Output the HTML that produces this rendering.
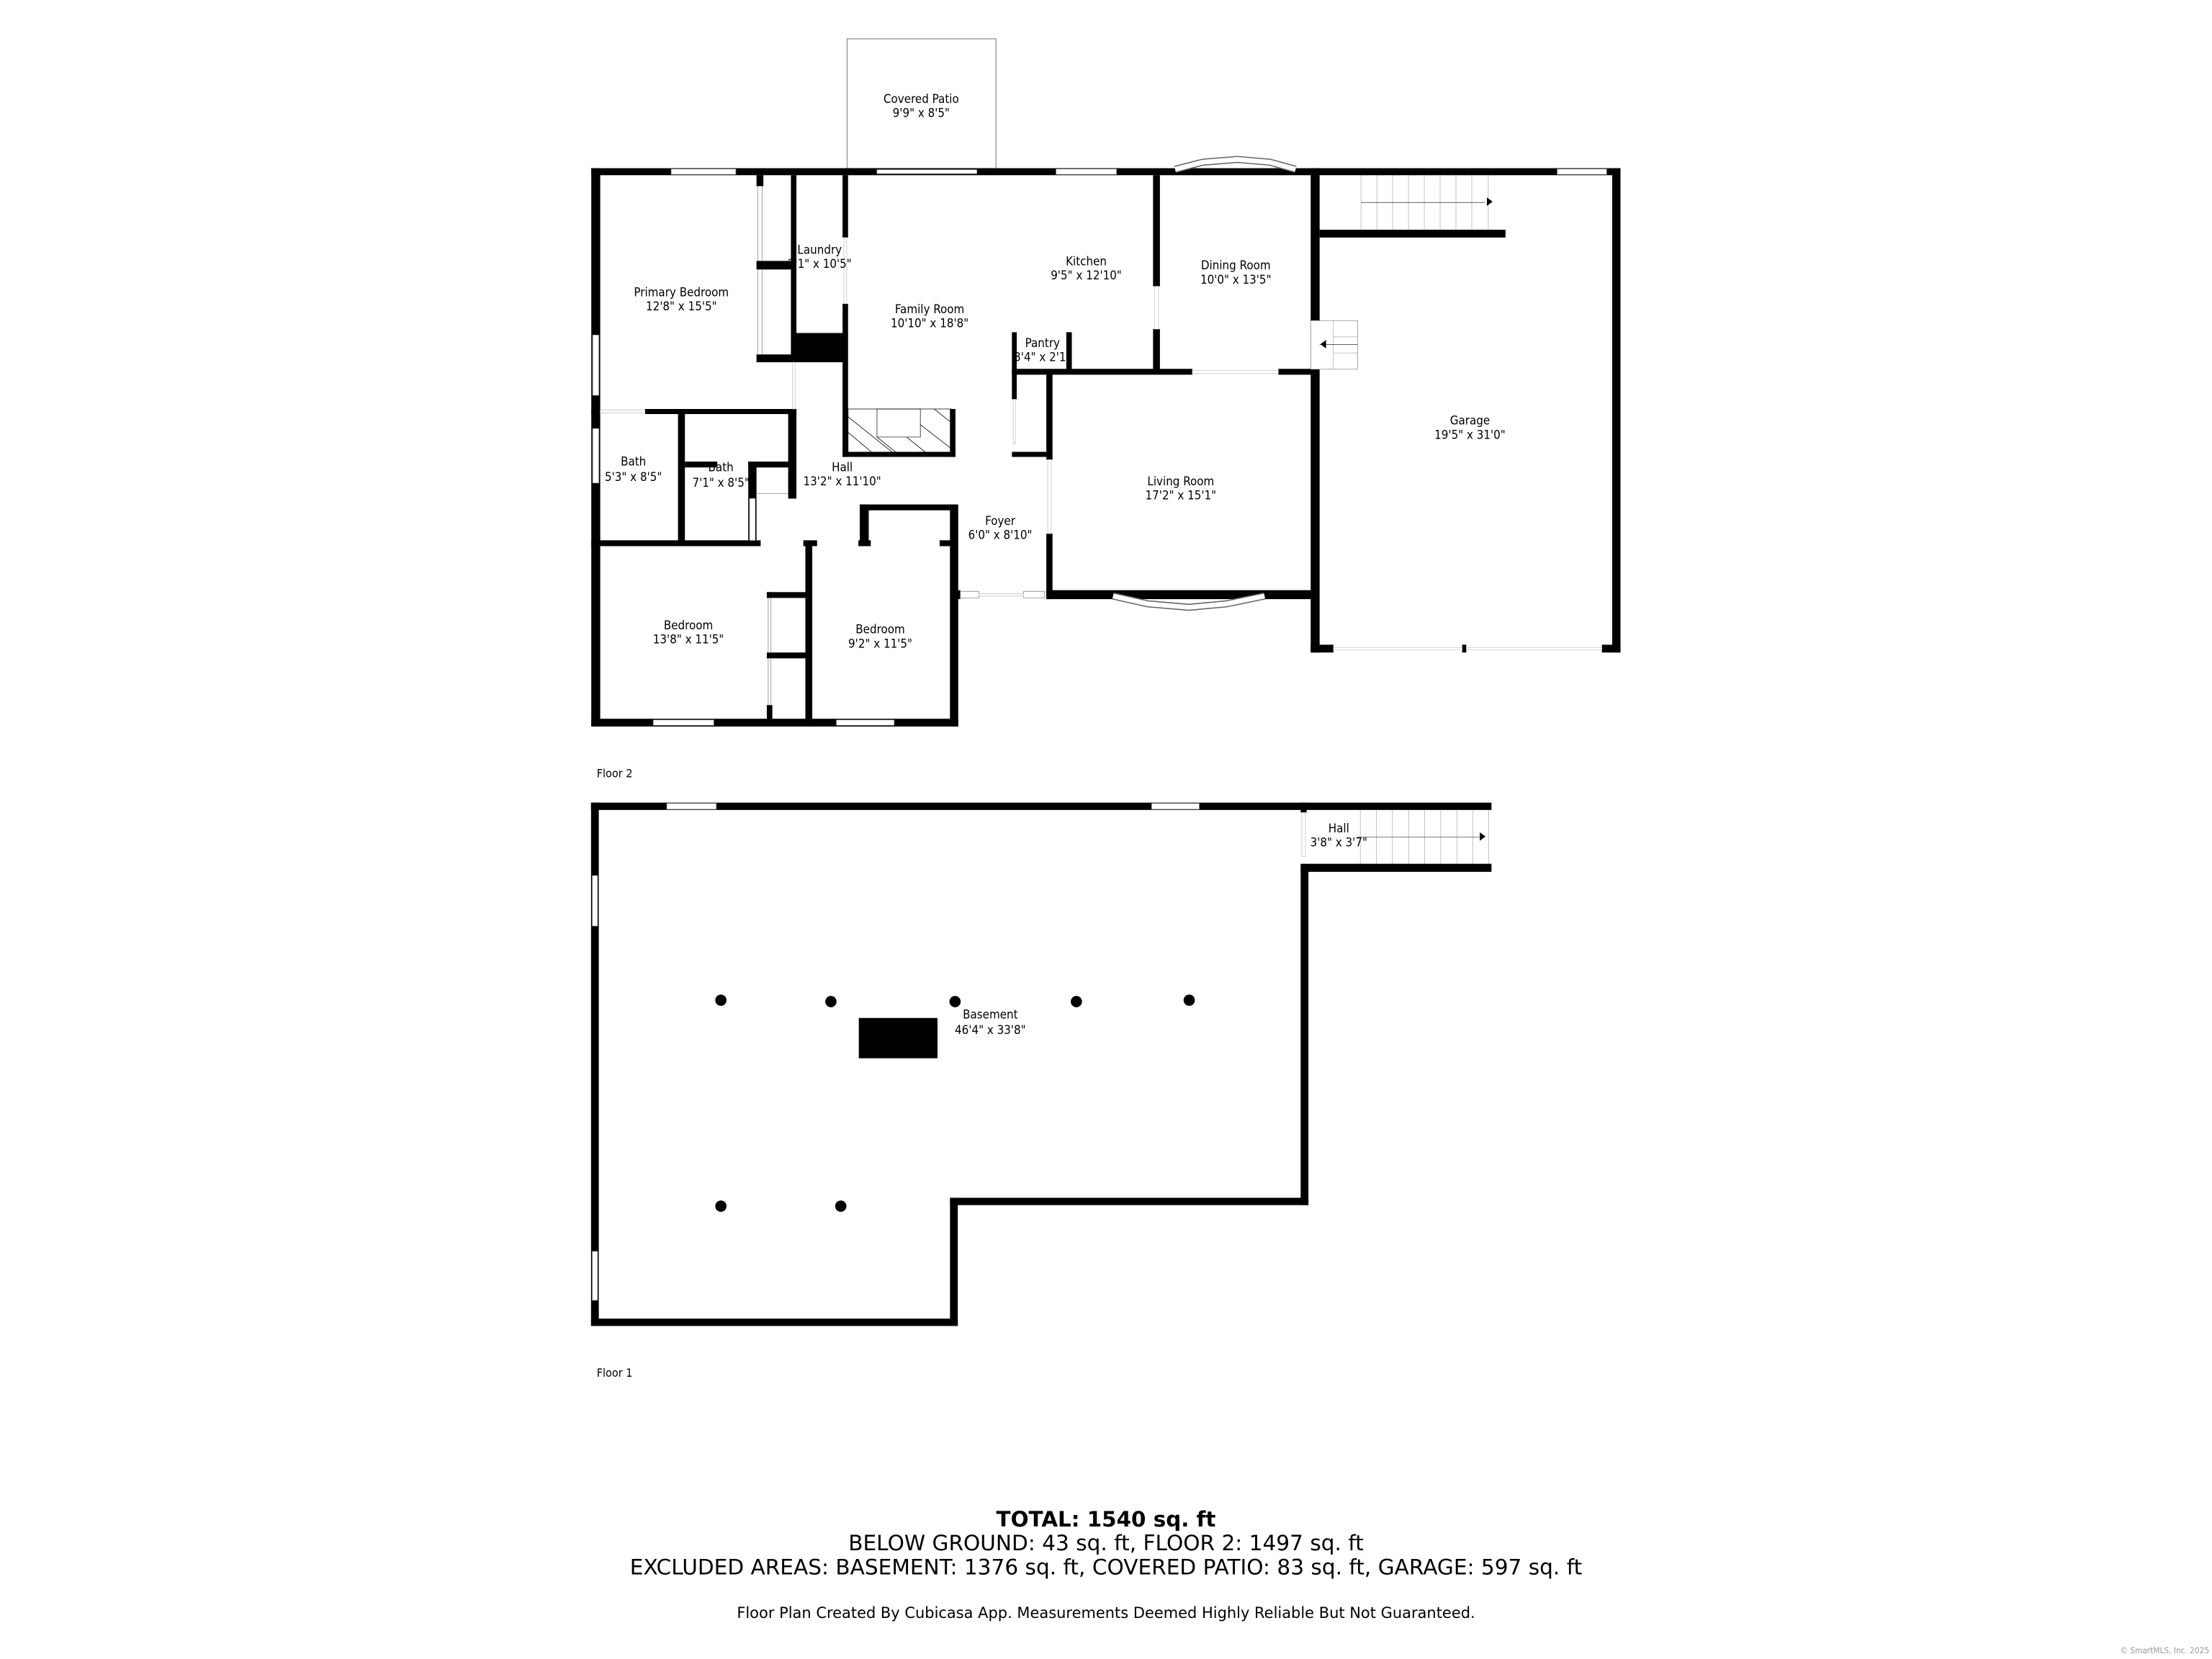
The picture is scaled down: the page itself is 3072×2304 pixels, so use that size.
<!DOCTYPE html>
<html><head><meta charset="utf-8"><style>
html,body{margin:0;padding:0;background:#fff}
svg{display:block}
text{font-family:"DejaVu Sans Condensed","DejaVu Sans","Liberation Sans",sans-serif;fill:#000}
</style></head><body>
<svg width="3072" height="2304" viewBox="0 0 1568 1176" xmlns="http://www.w3.org/2000/svg">
<rect width="1568" height="1176" fill="#fff"/>
<!-- covered patio -->
<rect x="600.5" y="27.5" width="105.5" height="92" fill="none" stroke="#999" stroke-width="0.7"/>

<!-- Floor 2 in zoom1 coords -->
<g transform="translate(408.4,102.1) scale(0.488,0.2762)" fill="#000">
<rect x="22" y="62" width="1495" height="18"/>
<rect x="22" y="62" width="13" height="1433"/>
<rect x="22" y="1475" width="533" height="20"/>
<rect x="543" y="925" width="12" height="570"/>
<rect x="553" y="1145" width="5" height="23"/>
<rect x="683" y="1145" width="392" height="23"/>
<rect x="683" y="580" width="9" height="230"/>
<rect x="683" y="1000" width="9" height="168"/>
<rect x="633" y="483" width="7" height="172"/>
<rect x="712" y="483" width="8" height="100"/>
<rect x="633" y="577" width="262" height="15"/>
<rect x="1020" y="577" width="55" height="15"/>
<rect x="633" y="790" width="57" height="13"/>
<rect x="838" y="80" width="10" height="285"/>
<rect x="838" y="475" width="10" height="115"/>
<rect x="1067" y="62" width="13" height="393"/>
<rect x="1067" y="575" width="13" height="730"/>
<rect x="1080" y="220" width="270" height="20"/>
<rect x="1505" y="62" width="12" height="1243"/>
<rect x="1067" y="1285" width="33" height="20"/>
<rect x="1287" y="1285" width="6" height="20"/>
<rect x="1490" y="1285" width="27" height="20"/>
<rect x="262" y="80" width="10" height="28"/>
<rect x="262" y="300" width="56" height="22"/>
<rect x="262" y="540" width="56" height="20"/>
<rect x="312" y="80" width="8" height="480"/>
<rect x="387" y="80" width="8" height="160"/>
<rect x="387" y="410" width="8" height="393"/>
<rect x="318" y="485" width="72" height="75"/>
<rect x="543" y="680" width="8" height="123"/>
<rect x="387" y="790" width="164" height="13"/>
<rect x="22" y="680" width="13" height="13"/>
<rect x="100" y="680" width="220" height="13"/>
<rect x="308" y="680" width="12" height="230"/>
<rect x="148" y="680" width="10" height="350"/>
<rect x="158" y="815" width="47" height="15"/>
<rect x="250" y="815" width="68" height="15"/>
<rect x="250" y="815" width="12" height="215"/>
<rect x="22" y="1017" width="246" height="15"/>
<rect x="330" y="1017" width="20" height="15"/>
<rect x="410" y="1017" width="18" height="15"/>
<rect x="528" y="1017" width="22" height="15"/>
<rect x="412" y="925" width="138" height="15"/>
<rect x="412" y="925" width="13" height="105"/>
<rect x="333" y="1030" width="10" height="465"/>
<rect x="277" y="1150" width="56" height="15"/>
<rect x="277" y="1305" width="56" height="15"/>
<rect x="277" y="1150" width="8" height="15"/>
<rect x="277" y="1440" width="8" height="40"/>
<g fill="#fff" stroke="#777" stroke-width="0.7">
<rect x="138" y="64" width="94" height="14" vector-effect="non-scaling-stroke"/>
<rect x="697" y="64" width="88" height="14" vector-effect="non-scaling-stroke"/>
<rect x="1425" y="64" width="72" height="14" vector-effect="non-scaling-stroke"/>
<rect x="437" y="66" width="145" height="10" stroke="#aaa" vector-effect="non-scaling-stroke"/>
<rect x="112" y="1478" width="88" height="14" vector-effect="non-scaling-stroke"/>
<rect x="378" y="1478" width="84" height="14" vector-effect="non-scaling-stroke"/>
<rect x="24" y="490" width="9" height="155" vector-effect="non-scaling-stroke"/>
<rect x="24" y="730" width="9" height="140" vector-effect="non-scaling-stroke"/>
<rect x="558" y="1148" width="27" height="17" vector-effect="non-scaling-stroke"/>
<rect x="650" y="1148" width="30" height="17" vector-effect="non-scaling-stroke"/>
<rect x="585" y="1154" width="65" height="6" stroke="#bbb" vector-effect="non-scaling-stroke"/>
<rect x="264" y="108" width="6" height="192" vector-effect="non-scaling-stroke"/>
<rect x="264" y="322" width="6" height="218" vector-effect="non-scaling-stroke"/>
<rect x="389" y="240" width="4" height="170" stroke="#bbb" vector-effect="non-scaling-stroke"/>
<rect x="840" y="365" width="6" height="110" stroke="#bbb" vector-effect="non-scaling-stroke"/>
<rect x="685" y="810" width="5" height="190" stroke="#bbb" vector-effect="non-scaling-stroke"/>
<rect x="635" y="655" width="3" height="115" stroke="#bbb" vector-effect="non-scaling-stroke"/>
<rect x="895" y="581" width="125" height="8" stroke="#bbb" vector-effect="non-scaling-stroke"/>
<rect x="314" y="560" width="4" height="120" stroke="#bbb" vector-effect="non-scaling-stroke"/>
<rect x="35" y="683" width="65" height="7" stroke="#bbb" vector-effect="non-scaling-stroke"/>
<rect x="262" y="830" width="46" height="67" vector-effect="non-scaling-stroke"/>
<rect x="252" y="910" width="8" height="107" stroke="#bbb" vector-effect="non-scaling-stroke"/>
<rect x="279" y="1165" width="4" height="140" vector-effect="non-scaling-stroke"/>
<rect x="279" y="1320" width="4" height="120" vector-effect="non-scaling-stroke"/>
<rect x="1100" y="1292" width="187" height="6" stroke="#bbb" vector-effect="non-scaling-stroke"/>
<rect x="1293" y="1292" width="197" height="6" stroke="#bbb" vector-effect="non-scaling-stroke"/>
<rect x="1067" y="453" width="68" height="125" vector-effect="non-scaling-stroke"/>
<rect x="437" y="680" width="63" height="72" stroke="#000" vector-effect="non-scaling-stroke"/>
</g>
<g stroke="#000" stroke-width="0.8" fill="none">
<rect x="395" y="680" width="150" height="112" vector-effect="non-scaling-stroke"/>
<path d="M395 700 L460 792 M395 740 L430 792 M480 752 L508 792 M500 720 L545 782 M520 680 L545 715 M437 752 L465 792" vector-effect="non-scaling-stroke"/>
</g>
<g stroke="#888" stroke-width="0.5" fill="none">
<path d="M1140 80 V220 M1163 80 V220 M1186 80 V220 M1209 80 V220 M1232 80 V220 M1255 80 V220 M1278 80 V220 M1301 80 V220 M1325 80 V220" vector-effect="non-scaling-stroke"/>
<path d="M1100 453 V578 M1100 495 H1135 M1100 536 H1135" vector-effect="non-scaling-stroke"/>
</g>
<path d="M1140 150 H1320" stroke="#000" stroke-width="0.6" vector-effect="non-scaling-stroke"/>
<path d="M1080 515 H1135" stroke="#000" stroke-width="0.6" vector-effect="non-scaling-stroke"/>
</g>
<polygon points="1054,140 1058,143 1054,146" fill="#000"/>
<polygon points="936,244 940,241 940,247" fill="#000"/>
<!-- bay windows -->
<g fill="none">
<polyline points="833,120 852.5,115 877,113 900.3,115 918.4,120" stroke="#666" stroke-width="5"/>
<polyline points="833,120 852.5,115 877,113 900.3,115 918.4,120" stroke="#fff" stroke-width="3.4"/>
<polyline points="789,422.5 813.4,428 842.7,430.5 869.6,428 896.4,422.5" stroke="#666" stroke-width="5"/>
<polyline points="789,422.5 813.4,428 842.7,430.5 869.6,428 896.4,422.5" stroke="#fff" stroke-width="3.4"/>
</g>

<!-- Floor 1 in zoom2 coords -->
<g transform="translate(408.4,551.3) scale(0.4227,0.2596)" fill="#000">
<rect x="25" y="68" width="1510" height="20"/>
<rect x="25" y="68" width="13" height="1429"/>
<rect x="25" y="1477" width="615" height="20"/>
<rect x="627" y="1147" width="13" height="350"/>
<rect x="627" y="1147" width="601" height="20"/>
<rect x="1215" y="240" width="13" height="927"/>
<rect x="1215" y="68" width="10" height="27"/>
<rect x="1215" y="235" width="320" height="22"/>
<rect x="474" y="656" width="132" height="110"/>
<g fill="#fff" stroke="#777" stroke-width="0.7">
<rect x="152" y="70" width="83" height="16" vector-effect="non-scaling-stroke"/>
<rect x="965" y="70" width="80" height="16" vector-effect="non-scaling-stroke"/>
<rect x="27" y="267" width="9" height="138" vector-effect="non-scaling-stroke"/>
<rect x="27" y="1293" width="9" height="134" vector-effect="non-scaling-stroke"/>
<rect x="1217" y="95" width="6" height="120" stroke="#bbb" vector-effect="non-scaling-stroke"/>
</g>
<g stroke="#888" stroke-width="0.5" fill="none">
<path d="M1315 88V235 M1342 88V235 M1369 88V235 M1396 88V235 M1423 88V235 M1450 88V235 M1477 88V235 M1504 88V235 M1530 88V235" vector-effect="non-scaling-stroke"/>
</g>
<path d="M1310 162 H1515" stroke="#000" stroke-width="0.6" vector-effect="non-scaling-stroke"/>
</g>
<polygon points="1049,590 1053,593 1049,596" fill="#000"/>
<g fill="#000">
<circle cx="511" cy="709" r="4"/><circle cx="589" cy="710" r="4"/><circle cx="677" cy="710" r="4"/>
<circle cx="763" cy="710" r="4"/><circle cx="843" cy="709" r="4"/>
<circle cx="511" cy="855" r="4"/><circle cx="596" cy="855" r="4"/>
</g>

<!-- labels -->
<g font-size="8.6" text-anchor="middle">
<text x="653" y="73">Covered Patio</text><text x="653" y="83">9'9" x 8'5"</text>
<text x="581" y="180">Laundry</text><text x="581" y="190">2'1" x 10'5"</text>
<text x="483" y="210">Primary Bedroom</text><text x="483" y="220">12'8" x 15'5"</text>
<text x="659" y="222">Family Room</text><text x="659" y="232">10'10" x 18'8"</text>
<text x="770" y="188">Kitchen</text><text x="770" y="198">9'5" x 12'10"</text>
<text x="876" y="191">Dining Room</text><text x="876" y="201">10'0" x 13'5"</text>
<text x="739" y="246">Pantry</text><text x="739" y="256">3'4" x 2'1"</text>
<text x="1042" y="301">Garage</text><text x="1042" y="311">19'5" x 31'0"</text>
<text x="449" y="330">Bath</text><text x="449" y="341">5'3" x 8'5"</text>
<text x="511" y="334">Bath</text><text x="511" y="345">7'1" x 8'5"</text>
<text x="597" y="334">Hall</text><text x="597" y="344">13'2" x 11'10"</text>
<text x="837" y="344">Living Room</text><text x="837" y="354">17'2" x 15'1"</text>
<text x="709" y="372">Foyer</text><text x="709" y="382">6'0" x 8'10"</text>
<text x="488" y="446">Bedroom</text><text x="488" y="456">13'8" x 11'5"</text>
<text x="624" y="449">Bedroom</text><text x="624" y="459">9'2" x 11'5"</text>
<text x="949" y="590">Hall</text><text x="949" y="600">3'8" x 3'7"</text>
<text x="702" y="722">Basement</text><text x="702" y="733">46'4" x 33'8"</text>
</g>
<text x="423" y="551" font-size="8.2">Floor 2</text>
<text x="423" y="976" font-size="8.2">Floor 1</text>
<g text-anchor="middle">
<text x="784" y="1082" font-size="15" font-weight="bold" style="font-family:'DejaVu Sans',sans-serif">TOTAL: 1540 sq. ft</text>
<text x="784" y="1099" font-size="15.1" style="font-family:'DejaVu Sans',sans-serif">BELOW GROUND: 43 sq. ft, FLOOR 2: 1497 sq. ft</text>
<text x="784" y="1116" font-size="15.1" style="font-family:'DejaVu Sans',sans-serif">EXCLUDED AREAS: BASEMENT: 1376 sq. ft, COVERED PATIO: 83 sq. ft, GARAGE: 597 sq. ft</text>
<text x="784" y="1147" font-size="10.7" style="font-family:'DejaVu Sans',sans-serif">Floor Plan Created By Cubicasa App. Measurements Deemed Highly Reliable But Not Guaranteed.</text>
</g>
<text x="1566" y="1172" font-size="6" text-anchor="end" style="fill:#999">© SmartMLS, Inc. 2025</text>
</svg>
</body></html>
